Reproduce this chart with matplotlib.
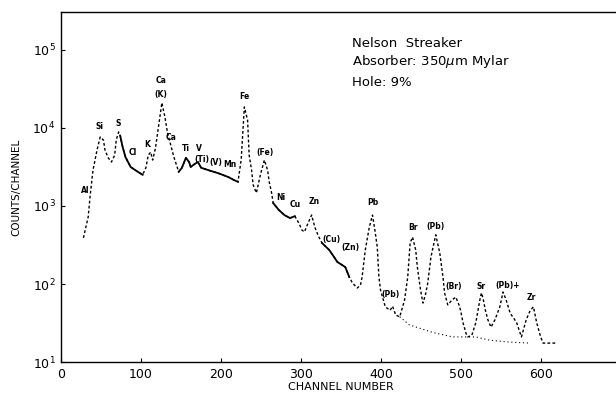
import numpy as np
import matplotlib
matplotlib.use('Agg')
import matplotlib.pyplot as plt

# spectrum (channel, counts)
channel = [28, 34, 36.5, 40, 45, 49, 53, 55, 59, 63, 67, 69, 72, 74, 77, 80.5, 87, 96, 102,
           106, 109, 112, 114.5, 118, 122, 126, 130, 133, 136, 141, 147, 151, 156, 160, 162,
           167, 171, 175, 184, 196, 209, 216, 221, 225, 229, 233, 235, 238, 240, 244, 249,
           254, 258, 260, 263, 265, 272, 279, 286, 292, 297, 301, 304, 309, 313, 317, 322,
           326, 335, 341, 345, 351, 355, 360, 364, 370, 374, 376, 380, 385, 389, 392, 395,
           397, 399, 405, 411, 414, 418, 423, 429, 433, 436, 439, 443, 445, 449, 452, 455,
           458, 462, 468, 473, 477, 479, 483, 488, 493, 497, 499, 502, 506, 508, 513, 518,
           523, 525, 527, 530, 533, 537, 542, 548, 552, 556, 561, 565, 569, 575, 581, 586,
           590, 594, 599, 602, 619]
counts = [390, 725, 1380, 2880, 5220, 7670, 7000, 5200, 4140, 3660, 4470, 7000, 8900, 7900,
          5700, 4240, 3160, 2740, 2510, 3090, 4480, 4900, 3880, 5540, 10900, 21000, 13400,
          8680, 6650, 4240, 2740, 3090, 4140, 3660, 3160, 3460, 3660, 3090, 2880, 2640,
          2350, 2150, 2040, 3880, 18600, 12600, 4480, 2880, 1860, 1470, 2510, 3880, 2880,
          2040, 1470, 1090, 890, 765, 700, 740, 605, 490, 465, 620, 765, 535, 400, 335,
          273, 222, 192, 175, 165, 123, 103, 89, 97, 123, 273, 535, 765, 490, 295, 123,
          84, 51, 46, 52, 40, 38, 62, 123, 335, 400, 273, 165, 84, 57, 72, 103, 222, 427,
          250, 123, 77, 54, 62, 68, 54, 46, 32, 23, 21, 22, 32, 62, 77, 66, 46, 35, 28,
          35, 51, 79, 62, 42, 37, 32, 21, 35, 46, 51, 32, 21, 17.5, 17.5]

# fitted background under the high channel peaks
bg_channel = [423, 435, 464, 489, 518, 536, 561, 586]
bg_counts = [38, 30, 24, 21, 21, 19, 18, 17.5]

# solid stretches of the trace (rest is dotted in the original)
solid_ranges = [(74, 102), (147, 221), (265, 292), (326, 360)]

peak_labels = ['Al', 'Si', 'S', 'Cl', 'K', 'Ca', '(K)', 'Ca', 'Ti', 'V', '(Ti)', '(V)', 'Mn',
               'Fe', '(Fe)', 'Ni', 'Cu', 'Zn', '(Cu)', '(Zn)', 'Pb', '(Pb)', 'Br', '(Pb)',
               '(Br)', 'Sr', '(Pb)+', 'Zr']
label_ch = [30, 48, 72, 90, 108, 125, 125, 138, 156, 172, 176, 193, 211, 229, 255, 274, 293,
            316, 338, 361, 389, 411, 439, 468, 490, 525, 558, 587]
label_counts = [1600, 10500, 11500, 4800, 6200, 40000, 27000, 7600, 5400, 5400, 3950, 3650,
                3450, 25000, 4900, 1300, 1030, 1130, 370, 295, 1120, 73, 530, 540, 93, 93, 97, 68]

ch = np.array(channel)
ct = np.array(counts, dtype=float)

fig = plt.figure(figsize=(6.16, 3.97), dpi=100)
ax = fig.add_axes([0.099, 0.088, 0.91, 0.882])

ax.plot(ch, ct, color='black', lw=1.0, linestyle=(0, (2, 1.6)))
solid = np.zeros(len(ch), dtype=bool)
for lo, hi in solid_ranges:
    solid |= (ch >= lo) & (ch <= hi)
ax.plot(ch, np.where(solid, ct, np.nan), color='black', lw=1.3)
ax.plot(bg_channel, bg_counts, color='black', lw=0.8, linestyle=(0, (1, 2.5)))

for lab, x, y in zip(peak_labels, label_ch, label_counts):
    ax.text(x, y, lab, fontsize=5.5, fontweight='bold', ha='center', va='center')

ax.set_yscale('log')
ax.set_xlim(0, 700)
ax.set_ylim(10, 3.07e5)
ax.set_xticks([0, 100, 200, 300, 400, 500, 600])
ax.set_yticks([10, 100, 1000, 10000, 100000])
ax.set_yticklabels(['$10^1$', '$10^2$', '$10^3$', '$10^4$', '$10^5$'])
ax.minorticks_off()
ax.tick_params(direction='in', length=3, labelsize=9, pad=4)
ax.spines['right'].set_visible(False)
for s in ax.spines.values():
    s.set_linewidth(1.0)

ax.set_xlabel('CHANNEL NUMBER', fontsize=8, labelpad=1)
ax.set_ylabel('COUNTS/CHANNEL', fontsize=7.5, labelpad=8)

ax.text(0.52, 0.911, 'Nelson  Streaker', transform=ax.transAxes, fontsize=9.5, va='center')
ax.text(0.52, 0.857, 'Absorber: 350$\\mu$m Mylar', transform=ax.transAxes, fontsize=9.5,
        va='center')
ax.text(0.52, 0.797, 'Hole: 9%', transform=ax.transAxes, fontsize=9.5, va='center')

fig.savefig('out.png', dpi=100)
